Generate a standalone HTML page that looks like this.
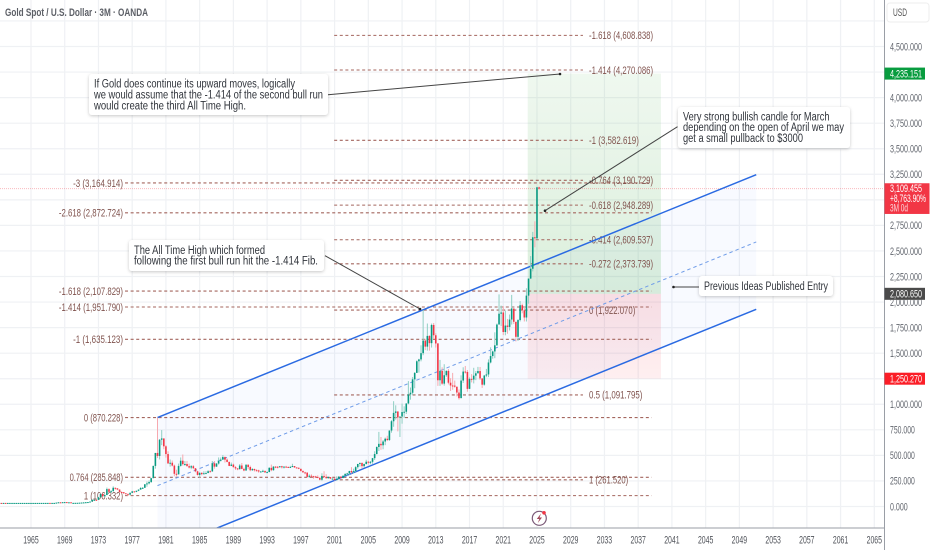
<!DOCTYPE html>
<html lang="en">
<head>
<meta charset="utf-8">
<title>Gold Spot / U.S. Dollar 3M chart</title>
<style>
html,body{margin:0;padding:0;background:#fff;width:932px;height:550px;overflow:hidden}
svg{display:block;font-family:"Liberation Sans",sans-serif}
.note{font-size:11.5px;fill:#30343b}
</style>
</head>
<body>
<svg id="chart" xmlns="http://www.w3.org/2000/svg" width="932" height="550" viewBox="0 0 932 550">
  <defs>
    <clipPath id="pane"><rect x="0" y="0" width="884" height="528"/></clipPath>
    <linearGradient id="profitGrad" x1="0" y1="0" x2="0" y2="1">
      <stop offset="0" stop-color="#4caf50" stop-opacity="0.09"/>
      <stop offset="1" stop-color="#4caf50" stop-opacity="0.2"/>
    </linearGradient>
    <linearGradient id="lossGrad" x1="0" y1="0" x2="0" y2="1">
      <stop offset="0" stop-color="#f23645" stop-opacity="0.15"/>
      <stop offset="1" stop-color="#f23645" stop-opacity="0.08"/>
    </linearGradient>
    <filter id="noteShadow" x="-10%" y="-20%" width="120%" height="150%">
      <feDropShadow dx="0" dy="1" stdDeviation="1.5" flood-color="#000" flood-opacity="0.22"/>
    </filter>
  </defs>
  <rect x="0" y="0" width="932" height="550" fill="#ffffff"/>
  <g id="grid"></g>
  <g id="plot" clip-path="url(#pane)"></g>
  <g id="axes"></g>

  <text x="5" y="16" font-size="11" font-weight="700" fill="#5c5f66" textLength="143" lengthAdjust="spacingAndGlyphs">Gold Spot / U.S. Dollar · 3M · OANDA</text>

  <g>
    <line x1="328" y1="94.7" x2="560" y2="74" stroke="#444" stroke-width="1"/>
    <circle cx="560" cy="74" r="1.3" fill="#222"/>
    <rect x="89" y="74" width="239" height="41" rx="3" fill="#fff" filter="url(#noteShadow)"/>
    <text class="note" x="94" y="87.500" textLength="201" lengthAdjust="spacingAndGlyphs">If Gold does continue its upward moves, logically</text>
    <text class="note" x="94" y="98.500" textLength="229" lengthAdjust="spacingAndGlyphs">we would assume that the -1.414 of the second bull run</text>
    <text class="note" x="94" y="109.500" textLength="152" lengthAdjust="spacingAndGlyphs">would create the third All Time High.</text>
  </g>

  <g>
    <line x1="325" y1="255.7" x2="420" y2="309" stroke="#444" stroke-width="1"/>
    <circle cx="420" cy="309" r="1.3" fill="#222"/>
    <rect x="129" y="240" width="195" height="31" rx="3" fill="#fff" filter="url(#noteShadow)"/>
    <text class="note" x="134" y="254" textLength="131" lengthAdjust="spacingAndGlyphs">The All Time High which formed</text>
    <text class="note" x="134" y="264.500" textLength="184" lengthAdjust="spacingAndGlyphs">following the first bull run hit the -1.414 Fib.</text>
  </g>

  <g>
    <line x1="677.5" y1="126.7" x2="545" y2="210.7" stroke="#444" stroke-width="1"/>
    <circle cx="545" cy="210.7" r="1.3" fill="#222"/>
    <rect x="678" y="107" width="172" height="41" rx="3" fill="#fff" filter="url(#noteShadow)"/>
    <text class="note" x="683" y="120.300" textLength="146.500" lengthAdjust="spacingAndGlyphs">Very strong bullish candle for March</text>
    <text class="note" x="683" y="131" textLength="161" lengthAdjust="spacingAndGlyphs">depending on the open of April we may</text>
    <text class="note" x="683" y="141.800" textLength="120" lengthAdjust="spacingAndGlyphs">get a small pullback to $3000</text>
  </g>

  <g>
    <line x1="699" y1="287" x2="673.5" y2="287" stroke="#444" stroke-width="1"/>
    <circle cx="673.500" cy="287" r="1.3" fill="#222"/>
    <rect x="699" y="276" width="134" height="20" rx="3" fill="#fff" filter="url(#noteShadow)"/>
    <text class="note" x="704" y="290" textLength="124" lengthAdjust="spacingAndGlyphs">Previous Ideas Published Entry</text>
  </g>

  <g>
    <circle cx="539.300" cy="518.300" r="7" fill="#fff" stroke="#7b5a78" stroke-width="1.200"/>
    <path d="M541 513.500 L536.800 519 L539.300 519 L537.800 523 L542 517.500 L539.500 517.500 Z" fill="#a0475a"/>
    <circle cx="544" cy="512.800" r="1.800" fill="#f23645"/>
  </g>

  <g>
    <rect x="887" y="3" width="42" height="19" rx="3" fill="#fff" stroke="#eeeeee"/>
    <text x="893" y="16" font-size="11" fill="#555" textLength="14" lengthAdjust="spacingAndGlyphs">USD</text>
  </g>
</svg>

<script>
// ---------- chart data ----------
const startYear = 1961;
const yearTicks = [1965,1969,1973,1977,1981,1985,1989,1993,1997,2001,2005,2009,2013,2017,2021,2025,2029,2033,2037,2041,2045,2049,2053,2057,2061,2065];
const priceGridValues = [0,250,500,750,1000,1250,1500,1750,2000,2250,2500,2750,3000,3250,3500,3750,4000,4250,4500,4750];
const priceTickLabels = ["0.000","250.000","500.000","750.000","1,000.000","1,500.000","1,750.000","2,000.000","2,250.000","2,500.000","2,750.000","3,250.000","3,500.000","3,750.000","4,000.000","4,500.000"];
const priceTickValues = [0,250,500,750,1000,1500,1750,2000,2250,2500,2750,3250,3500,3750,4000,4500];

// quarterly candles, first entry = Q1 1961
const opens = [
35.1,35.1,35.2,35.1, 35.2,35.1,35.1,35.1, 35.1,35.1,35.1,35.1, 35.1,35.1,35.1,35.1,
35.1,35.1,35.1,35.1, 35.1,35.2,35.2,35.2, 35.2,35.2,35.1,35.2, 35.2,38,41,39.5,
41.9,43,41,41, 35.2,35.6,35.9,36.2, 37.4,38.9,40.1,42, 43.5,48.4,65.1,65.5,
64.9,90,123,100, 112,170,143,150, 183,178,166,142, 140,129,124,116,
134,148,143,154, 165,181,183,217, 226,240,277,397, 524,494,653,666,
589,513,422,428, 400,320,315,397, 448,414,416,395, 381,394,375,344,
309,329,317,325, 327,345,343,423, 390,420,447,459, 484,458,436,397,
410,385,373,366, 401,368,352,408, 386,355,367,355, 353,342,343,349,
333,337,378,355, 390,389,385,394, 383,390,387,384, 387,396,382,379,
369,348,334,332, 290,301,296,294, 288,279,262,299, 290,277,288,273,
273,258,271,293, 279,301,318,324, 347,334,346,385, 416,426,395,416,
438,428,437,473, 513,582,613,599, 636,663,650,743, 834,916,930,871,
880,924,927,1008, 1097,1113,1244,1307, 1421,1439,1500,1623, 1564,1669,1598,1776,
1675,1595,1235,1327, 1202,1284,1327,1211, 1184,1183,1172,1115, 1060,1232,1320,1316,
1151,1249,1242,1280, 1303,1325,1253,1192, 1281,1292,1409,1472, 1517,1577,1780,1886,
1898,1707,1770,1757, 1829,1937,1807,1660, 1824,1969,1919,1849, 2063,2230,2326,2634,
2624,3123
];
const highs = [
35.3,35.3,35.3,35.3, 35.3,35.3,35.3,35.3, 35.3,35.3,35.3,35.3, 35.3,35.3,35.3,35.3,
35.3,35.3,35.3,35.3, 35.3,35.4,35.4,35.4, 35.4,35.4,35.4,35.4, 39,42,41.5,42.5,
43.5,44,42,42, 36,36.2,36.5,37.5, 39,40.5,42.5,44, 49,70,70,66,
95,127,127,120, 185,179,160,197, 186,178,167,145, 140,130,118,137,
153,150,155,168, 189,190,220,245, 255,280,400,524, 870,660,748,650,
600,540,460,450, 410,360,420,480, 509,445,445,420, 405,405,352,350,
335,335,345,345, 355,355,445,445, 425,480,480,503, 490,470,440,430,
420,395,375,415, 425,380,415,415, 400,375,370,365, 360,345,360,345,
345,385,410,395, 395,395,395,398, 395,398,392,398, 418,395,385,382,
368,352,340,333, 315,315,300,300, 305,290,325,345, 316,295,280,275,
275,295,295,295, 305,328,330,350, 385,370,395,417, 431,432,420,457,
447,445,475,540, 589,730,680,650, 674,692,745,845, 1030,990,920,880,
1007,980,1010,1227, 1164,1266,1315,1430, 1445,1577,1921,1640, 1790,1675,1790,1795,
1695,1600,1434,1362, 1392,1332,1345,1255, 1307,1232,1170,1145, 1283,1362,1375,1335,
1263,1295,1357,1325, 1366,1365,1255,1287, 1346,1439,1557,1525, 1704,1790,2075,1965,
1960,1916,1835,1878, 2070,1880,1785,1833, 2010,1985,1953,2135, 2222,2450,2686,2790,
3128,3130
];
const lows = [
35,35,35,35, 35,35,35,35, 35,35,35,35, 35,35,35,35,
35,35,35,35, 35,35,35,35, 35,35,35,35, 35,37,38.5,39,
41,41,40,35, 35,35,35.5,36, 37,38,40,41, 43,48,58,60,
64,88,95,95, 115,140,130,146, 165,160,138,130, 125,122,103,110,
130,138,140,150, 165,172,182,193, 216,230,278,370, 474,460,600,560,
478,415,390,392, 296,296,312,390, 400,398,390,372, 365,365,335,303,
284,305,313,320, 327,335,340,370, 388,410,440,455, 430,432,395,395,
380,358,355,360, 365,345,350,365, 345,348,343,343, 330,335,335,330,
326,335,345,350, 375,372,380,372, 372,380,380,380, 385,378,372,365,
340,330,315,283, 280,288,272,280, 278,255,252,280, 272,272,268,263,
255,255,265,272, 276,295,302,310, 323,322,340,370, 390,375,382,410,
411,413,418,455, 510,543,555,560, 600,640,642,722, 780,850,735,680,
810,865,905,1000, 1045,1090,1157,1310, 1310,1420,1480,1530, 1525,1525,1555,1640,
1555,1180,1180,1190, 1182,1268,1195,1130, 1142,1162,1077,1046, 1060,1208,1300,1123,
1150,1214,1204,1236, 1302,1238,1160,1182, 1265,1266,1400,1446, 1451,1570,1850,1764,
1677,1675,1690,1722, 1780,1785,1615,1620, 1810,1890,1810,1810, 1984,2225,2300,2536,
2615,3098
];
const closes = [
35.1,35.2,35.1,35.2, 35.1,35.1,35.1,35.1, 35.1,35.1,35.1,35.1, 35.1,35.1,35.1,35.1,
35.1,35.1,35.1,35.1, 35.2,35.2,35.2,35.2, 35.2,35.1,35.2,35.2, 38,41,39.5,41.9,
43,41,41,35.2, 35.6,35.9,36.2,37.4, 38.9,40.1,42,43.5, 48.4,65.1,65.5,64.9,
90,123,100,112, 170,143,150,183, 178,166,142,140, 129,124,116,134,
148,143,154,165, 181,183,217,226, 240,277,397,524, 494,653,666,589,
513,422,428,400, 320,315,397,448, 414,416,395,381, 394,375,344,309,
329,317,325,327, 345,343,423,390, 420,447,459,484, 458,436,397,410,
385,373,366,401, 368,352,408,386, 355,367,355,353, 342,343,349,333,
337,378,355,390, 389,385,394,383, 390,387,384,387, 396,382,379,369,
348,334,332,290, 301,296,294,288, 279,262,299,290, 277,288,273,273,
258,271,293,279, 301,318,324,347, 334,346,385,416, 426,395,416,438,
428,437,473,513, 582,613,599,636, 663,650,743,834, 916,930,871,880,
924,927,1008,1097, 1113,1244,1307,1421, 1439,1500,1623,1564, 1669,1598,1776,1675,
1595,1235,1327,1202, 1284,1327,1211,1184, 1183,1172,1115,1060, 1232,1320,1316,1151,
1249,1242,1280,1303, 1325,1253,1192,1281, 1292,1409,1472,1517, 1577,1780,1886,1898,
1707,1770,1757,1829, 1937,1807,1660,1824, 1969,1919,1849,2063, 2230,2326,2634,2624,
3123,3109
];

// Fibonacci drawings
const fibLeftRatios = ["-3","-2.618","-1.618","-1.414","-1","0","0.764","1"];
const fibLeftPrices = [3164.914,2872.724,2107.829,1951.79,1635.123,870.228,285.848,106.332];
const fibRightRatios = ["-1.618","-1.414","-1","-0.764","-0.618","-0.414","-0.272","0","0.5","1"];
const fibRightPrices = [4608.838,4270.086,3582.619,3190.729,2948.289,2609.537,2373.739,1922.07,1091.795,261.52];
const fibLeftRangeYears = [1976.15,2038.6];
const fibRightRangeYears = [2000.95,2030.45];

// Parallel channel (anchor dates and prices)
const channelYears = [1980,2051];
const channelUpper = [870,3246];
const channelMiddle = [204,2588];
const channelLower = [-447,1929];

// Long position tool
const positionYears = [2023.9,2039.7];
const positionTarget = 4235.151;
const positionEntry = 2080.65;
const positionStop = 1250.27;

const lastPrice = 3109.455;
const lastChange = "+8,763.90%";
const lastCountdown = "3M 0d";

// ---------- axis functions ----------
const PX_PER_YEAR = 8.433;
const PX_PER_UNIT = 0.10222;
function xOf(t){ return 31 + (t - 1965) * PX_PER_YEAR; }
function yOf(p){ return 506.5 - p * PX_PER_UNIT; }

const SVGNS = "http://www.w3.org/2000/svg";
function mk(tag, attrs, parent){
  const el = document.createElementNS(SVGNS, tag);
  for (const k in attrs) el.setAttribute(k, attrs[k]);
  parent.appendChild(el);
  return el;
}
function fmt(p){
  return p.toLocaleString("en-US",{minimumFractionDigits:3,maximumFractionDigits:3});
}
const gridG = document.getElementById("grid");
const plotG = document.getElementById("plot");
const axesG = document.getElementById("axes");

// ---------- grid ----------
yearTicks.forEach(function(y){
  const l = mk("line",{x1:xOf(y),x2:xOf(y),y1:0,y2:528,stroke:"#eff1f4","stroke-width":1.2},gridG);
  
  
});
priceGridValues.forEach(function(p){
  const l = mk("line",{x1:0,x2:884,y1:yOf(p),y2:yOf(p),stroke:"#eff1f4","stroke-width":1.2},gridG);
  
  
});

// ---------- channel fill ----------
const chX0 = xOf(channelYears[0]), chX1 = xOf(channelYears[1]);
const chFill = mk("polygon",{
  points: chX0+","+yOf(channelUpper[0])+" "+chX1+","+yOf(channelUpper[1])+" "+chX1+","+yOf(channelLower[1])+" "+chX0+","+yOf(channelLower[0]),
  fill:"#2962ff","fill-opacity":0.032
},plotG);



// ---------- long position ----------
const posX0 = xOf(positionYears[0]), posX1 = xOf(positionYears[1]);
const profitZone = mk("rect",{x:posX0,y:yOf(positionTarget),width:posX1-posX0,height:yOf(positionEntry)-yOf(positionTarget),fill:"url(#profitGrad)"},plotG);


const lossZone = mk("rect",{x:posX0,y:yOf(positionEntry),width:posX1-posX0,height:yOf(positionStop)-yOf(positionEntry),fill:"url(#lossGrad)"},plotG);



// ---------- last price line ----------
const lastLine = mk("line",{x1:0,x2:884,y1:yOf(lastPrice),y2:yOf(lastPrice),stroke:"#f23645","stroke-opacity":0.35,"stroke-width":1,"stroke-dasharray":"1 1"},plotG);



// ---------- fib levels ----------
const FIB = "#a4665e", FIBTXT = "#80534e";
fibLeftPrices.forEach(function(p,i){
  const l = mk("line",{x1:xOf(fibLeftRangeYears[0]),x2:xOf(fibLeftRangeYears[1]),y1:yOf(p),y2:yOf(p),stroke:FIB,"stroke-width":1.1,"stroke-dasharray":"3 2.600"},plotG);
  
  
  const s = fibLeftRatios[i]+" ("+fmt(p)+")";
  const w = s.length*3.56;
  const t = mk("text",{x:123-w,y:yOf(p)+3.8,"font-size":11,fill:FIBTXT,textLength:w,lengthAdjust:"spacingAndGlyphs"},plotG);
  t.textContent = s;
  
  
});
fibRightPrices.forEach(function(p,i){
  const l = mk("line",{x1:xOf(fibRightRangeYears[0]),x2:xOf(fibRightRangeYears[1]),y1:yOf(p),y2:yOf(p),stroke:FIB,"stroke-width":1.1,"stroke-dasharray":"3 2.600"},plotG);
  
  
  const s = fibRightRatios[i]+" ("+fmt(p)+")";
  const w = s.length*3.56;
  const t = mk("text",{x:589,y:yOf(p)+3.8,"font-size":11,fill:FIBTXT,textLength:w,lengthAdjust:"spacingAndGlyphs"},plotG);
  t.textContent = s;
  
  
});

// ---------- channel lines ----------
const chUpper = mk("line",{x1:chX0,x2:chX1,y1:yOf(channelUpper[0]),y2:yOf(channelUpper[1]),stroke:"#2a6ae2","stroke-width":1.500},plotG);


const chMiddle = mk("line",{x1:chX0,x2:chX1,y1:yOf(channelMiddle[0]),y2:yOf(channelMiddle[1]),stroke:"#6f9ce8","stroke-width":1,"stroke-dasharray":"3.500 3"},plotG);


const chLower = mk("line",{x1:chX0,x2:chX1,y1:yOf(channelLower[0]),y2:yOf(channelLower[1]),stroke:"#2a6ae2","stroke-width":1.500},plotG);



// ---------- candles ----------
closes.forEach(function(c,i){
  const o = opens[i], h = highs[i], lo = lows[i];
  const t = startYear + i/4;
  const x = xOf(t);
  const up = c >= o;
  const wick = mk("line",{x1:x,x2:x,y1:yOf(h),y2:yOf(lo),stroke:up?"#8fcfc3":"#f7a9af","stroke-width":1},plotG);
  
  
  const top = yOf(Math.max(o,c));
  const bh = Math.max(1, Math.abs(yOf(o)-yOf(c)));
  const body = mk("rect",{x:x-0.8,y:top,width:1.6,height:bh,fill:up?"#089981":"#f23645"},plotG);
  
  
});

// ---------- axes ----------
const axisRight = mk("line",{x1:884.5,x2:884.5,y1:0,y2:550,stroke:"#9a9ea6","stroke-width":1},axesG);


const axisBottom = mk("line",{x1:0,x2:884.5,y1:528,y2:528,stroke:"#9a9ea6","stroke-width":1},axesG);



yearTicks.forEach(function(y){
  const w = 15.4;
  const t = mk("text",{x:xOf(y)-w/2,y:543.5,"font-size":11,fill:"#50535a",textLength:w,lengthAdjust:"spacingAndGlyphs"},axesG);
  t.textContent = String(y);
  
  
});
priceTickValues.forEach(function(p,i){
  const s = priceTickLabels[i];
  const t = mk("text",{x:890,y:yOf(p)+3.8,"font-size":11,fill:"#62666e",textLength:s.length*3.55,lengthAdjust:"spacingAndGlyphs"},axesG);
  t.textContent = s;
  
  
});

// ---------- price tags ----------
const targetTag = mk("rect",{x:884.5,y:yOf(positionTarget)-6,width:40.500,height:12,fill:"#089c3f"},axesG);


const targetTxt = mk("text",{x:890,y:yOf(positionTarget)+3.8,"font-size":11,fill:"#fff",textLength:32,lengthAdjust:"spacingAndGlyphs"},axesG);
targetTxt.textContent = fmt(positionTarget);



const entryTag = mk("rect",{x:884.5,y:yOf(positionEntry)-6,width:40.500,height:12,fill:"#4a4a4a"},axesG);


const entryTxt = mk("text",{x:890,y:yOf(positionEntry)+3.8,"font-size":11,fill:"#fff",textLength:32,lengthAdjust:"spacingAndGlyphs"},axesG);
entryTxt.textContent = fmt(positionEntry);



const stopTag = mk("rect",{x:884.5,y:yOf(positionStop)-6,width:40.500,height:12,fill:"#fb1e27"},axesG);


const stopTxt = mk("text",{x:890,y:yOf(positionStop)+3.8,"font-size":11,fill:"#fff",textLength:32,lengthAdjust:"spacingAndGlyphs"},axesG);
stopTxt.textContent = fmt(positionStop);



const lastTag = mk("rect",{x:884.5,y:yOf(lastPrice)-5.4,width:45,height:30.700,fill:"#f23645"},axesG);


const lastTxt = mk("text",{x:890,y:yOf(lastPrice)+3.5,"font-size":11,fill:"#fff",textLength:32,lengthAdjust:"spacingAndGlyphs"},axesG);
lastTxt.textContent = fmt(lastPrice);


const changeTxt = mk("text",{x:890,y:yOf(lastPrice)+13.2,"font-size":11,fill:"#fff",textLength:36,lengthAdjust:"spacingAndGlyphs"},axesG);
changeTxt.textContent = lastChange;


const countTxt = mk("text",{x:890,y:yOf(lastPrice)+23,"font-size":11,fill:"#fff","fill-opacity":0.8,textLength:18,lengthAdjust:"spacingAndGlyphs"},axesG);
countTxt.textContent = lastCountdown;


</script>
</body>
</html>
